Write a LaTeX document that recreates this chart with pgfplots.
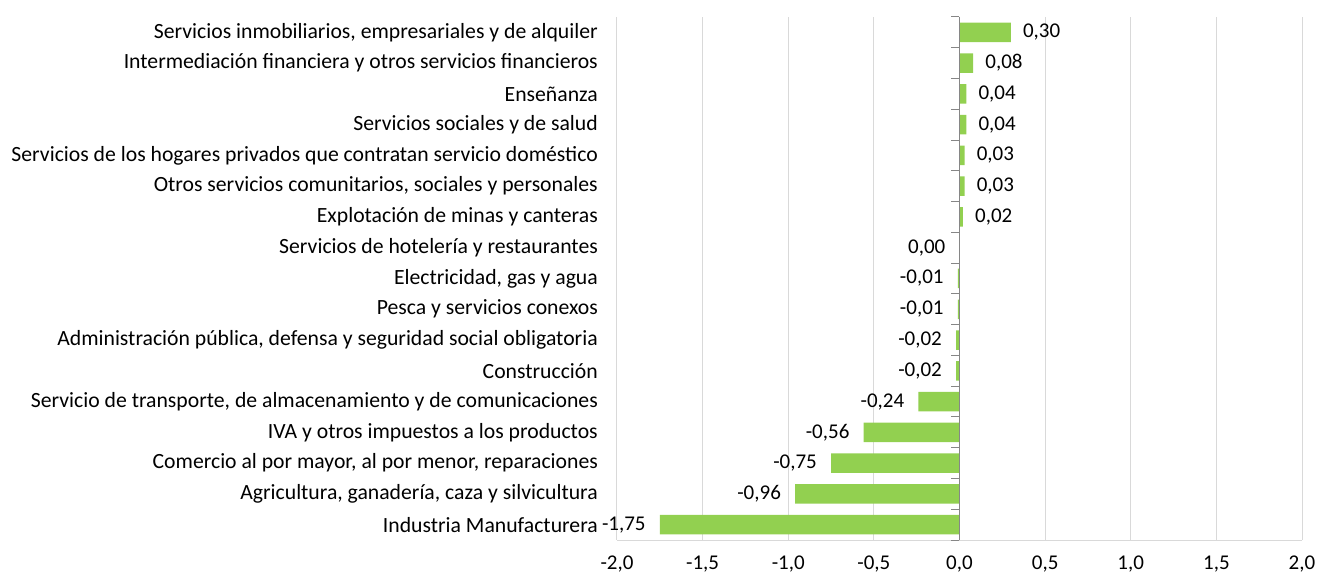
\documentclass[border=0pt]{standalone}
\usepackage{fontspec}
\setmainfont{Carlito}
\usepackage{pgfplots}
\pgfplotsset{compat=1.18}
\usepackage{pgfplotstable}
\definecolor{bargreen}{HTML}{92D050}
\definecolor{gridgray}{HTML}{D9D9D9}
\definecolor{axisgray}{HTML}{868686}

\pgfplotstableread{
y x
0 -1.75
1 -0.96
2 -0.75
3 -0.56
4 -0.24
5 -0.02
6 -0.02
7 -0.01
8 -0.01
9 0.00
10 0.02
11 0.03
12 0.03
13 0.04
14 0.04
15 0.08
16 0.30
}\data

\pgfplotstableread{
y x label
0 -1.75 -1,75
1 -0.96 -0,96
2 -0.75 -0,75
3 -0.56 -0,56
4 -0.24 -0,24
5 -0.02 -0,02
6 -0.02 -0,02
7 -0.01 -0,01
8 -0.01 -0,01
9 0.00 0,00
}\neglabels

\pgfplotstableread{
y x label
10 0.02 0,02
11 0.03 0,03
12 0.03 0,03
13 0.04 0,04
14 0.04 0,04
15 0.08 0,08
16 0.30 0,30
}\poslabels

\newcommand{\lblfont}{\fontsize{21.7bp}{26bp}\selectfont}
\newcommand{\valfont}{\fontsize{21bp}{25bp}\selectfont}

\begin{document}
\begin{tikzpicture}
\begin{axis}[
  scale only axis,
  width=685bp, height=523bp,
  xmin=-2, xmax=2, ymin=-0.5, ymax=16.5,
  clip=false,
  axis x line*=bottom, axis y line*=left,
  x axis line style={color=gridgray, line width=1pt},
  y axis line style={draw=none},
  xtick={-2,-1.5,-1,-0.5,0,0.5,1,1.5,2},
  xticklabels={{-2,0},{-1,5},{-1,0},{-0,5},{0,0},{0,5},{1,0},{1,5},{2,0}},
  xmajorgrids,
  grid style={color=gridgray, line width=1pt},
  xtick style={draw=none}, ytick style={draw=none},
  ytick={0,...,16},
  yticklabels={
    {Industria Manufacturera},
    {Agricultura, ganadería, caza y silvicultura},
    {Comercio al por mayor, al por menor, reparaciones},
    {IVA y otros impuestos a los productos},
    {Servicio de transporte, de almacenamiento y de comunicaciones},
    {Construcción},
    {Administración pública, defensa y seguridad social obligatoria},
    {Pesca y servicios conexos},
    {Electricidad, gas y agua},
    {Servicios de hotelería y restaurantes},
    {Explotación de minas y canteras},
    {Otros servicios comunitarios, sociales y personales},
    {Servicios de los hogares privados que contratan servicio doméstico},
    {Servicios sociales y de salud},
    {Enseñanza},
    {Intermediación financiera y otros servicios financieros},
    {Servicios inmobiliarios, empresariales y de alquiler}},
  yticklabel style={font=\lblfont, anchor=east, inner sep=0pt, xshift=-19bp},
  xticklabel style={font=\valfont, anchor=north, inner sep=0pt, yshift=-16bp},
]
\coordinate (sw) at (rel axis cs:0,0);
\addplot[xbar, bar width=19.5bp, bar shift=0pt, fill=bargreen, draw=none] table[x=x, y=y] {\data};
\addplot[draw=none, mark=none, point meta=explicit symbolic, nodes near coords,
  nodes near coords style={font=\valfont, anchor=east, inner sep=0pt, xshift=-14bp}]
  table[x=x, y=y, meta=label] {\neglabels};
\addplot[draw=none, mark=none, point meta=explicit symbolic, nodes near coords,
  nodes near coords style={font=\valfont, anchor=west, inner sep=0pt, xshift=12bp}]
  table[x=x, y=y, meta=label] {\poslabels};
\draw[axisgray, line width=1pt] (axis cs:0,-0.5) -- (axis cs:0,16.5);
\pgfplotsinvokeforeach{-0.5,0.5,...,16.5}{\draw[axisgray, line width=1pt] (axis cs:0,#1) -- ([xshift=-8bp]axis cs:0,#1);}
\end{axis}
\pgfresetboundingbox
\path (sw) ++(-617bp,-35bp) rectangle ++(1317bp,575bp);
\end{tikzpicture}
\end{document}
